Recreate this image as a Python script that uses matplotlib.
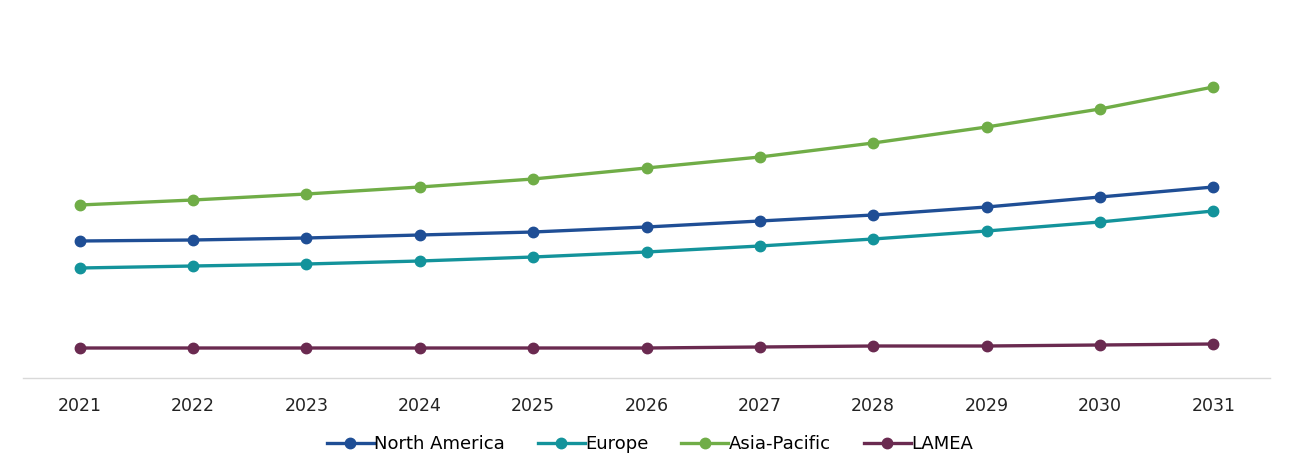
import matplotlib
matplotlib.use("Agg")
import matplotlib.pyplot as plt

years = [2021, 2022, 2023, 2024, 2025, 2026, 2027, 2028, 2029, 2030, 2031]
north_america = [137, 138, 140, 143, 146, 151, 157, 163, 171, 181, 191]
europe = [110, 112, 114, 117, 121, 126, 132, 139, 147, 156, 167]
asia_pacific = [173, 178, 184, 191, 199, 210, 221, 235, 251, 269, 291]
lamea = [30, 30, 30, 30, 30, 30, 31, 32, 32, 33, 34]

series = [
    ("North America", north_america, "#1F4E95"),
    ("Europe", europe, "#13939B"),
    ("Asia-Pacific", asia_pacific, "#70AD47"),
    ("LAMEA", lamea, "#6A2A50"),
]

fig = plt.figure(figsize=(12.93, 4.75), dpi=100)
ax = fig.add_axes([23 / 1293, 1 - 378 / 475, 1247 / 1293, 378 / 475])

for name, vals, col in series:
    ax.plot(years, vals, color=col, lw=2.4, marker="o", ms=7.5, label=name)

ax.set_xlim(2020.5, 2031.5)
ax.set_ylim(0, 378)
ax.set_xticks(years)
ax.set_xticklabels([str(y) for y in years], fontsize=12.5, color="#222222")
ax.tick_params(axis="x", length=0, pad=14)
ax.set_yticks([])
for s in ["top", "left", "right"]:
    ax.spines[s].set_visible(False)
ax.spines["bottom"].set_color("#D9D9D9")
ax.spines["bottom"].set_linewidth(1)

fig.legend(loc="center", bbox_to_anchor=(650 / 1293, 1 - 444 / 475), ncol=4,
           frameon=False, fontsize=13, handlelength=2.6, handletextpad=0.05,
           columnspacing=1.8)

fig.savefig("out.png", dpi=100)
